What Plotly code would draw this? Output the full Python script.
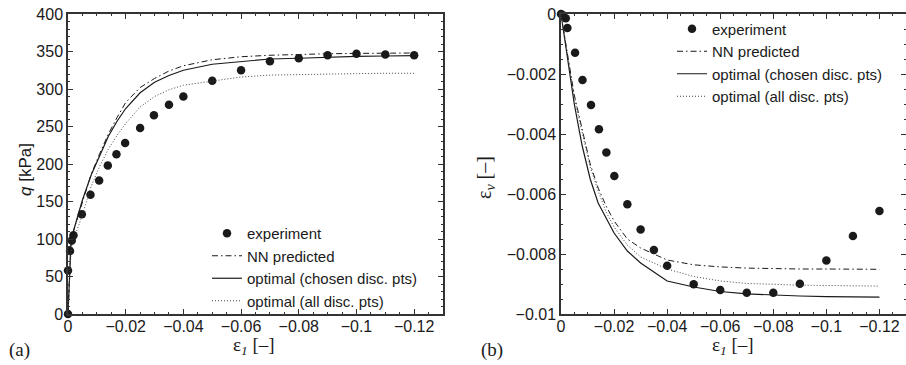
import plotly.graph_objects as go

# ---------------- data: panel (a) ----------------
exp_a_x = [0, 0, -0.0007, -0.0013, -0.0019, -0.0048, -0.0078, -0.0108, -0.0138, -0.0168, -0.0198,
           -0.025, -0.0298, -0.035, -0.04, -0.05, -0.06, -0.07, -0.08, -0.09, -0.10, -0.11, -0.12]
exp_a_q = [0, 58, 84, 98, 105, 133, 159, 178, 198, 213, 228,
           248, 265, 279, 290, 311, 325, 337, 341, 345, 347, 346, 345]

curve_x = [0, -0.0005, -0.001, -0.002, -0.005, -0.008, -0.011, -0.014, -0.017, -0.02,
           -0.025, -0.03, -0.035, -0.04, -0.05, -0.06, -0.07, -0.08, -0.09, -0.10, -0.11, -0.12]
nn_a_q = [0, 55, 92, 112, 150, 186, 214, 240, 262, 282,
          302, 314, 324, 331, 339, 343, 345, 346.5, 347, 347.5, 348, 348]
opt_chosen_a_q = [0, 55, 92, 112, 152, 185, 212, 237, 257, 274,
                  295, 309, 318, 325, 333, 337, 340, 341, 342.5, 343.5, 344, 344.5]
opt_all_a_q = [0, 45, 80, 100, 132, 170, 197, 220, 238, 254,
               276, 290, 299, 305, 311, 316, 318.5, 319.5, 320, 320.5, 321, 321]

# ---------------- data: panel (b) ----------------
exp_b_x = [0, -0.0006, -0.0018, -0.0024, -0.0053, -0.0081, -0.0113, -0.0143, -0.0171, -0.0201,
           -0.025, -0.03, -0.035, -0.04, -0.05, -0.06, -0.07, -0.08, -0.09, -0.10, -0.11, -0.12]
exp_b_v = [0, -0.00003, -0.00014, -0.00047, -0.00129, -0.0022, -0.00303, -0.00384, -0.00462, -0.0054,
           -0.00634, -0.00718, -0.00787, -0.00839, -0.00901, -0.0092, -0.00929, -0.00929, -0.00899,
           -0.00822, -0.0074, -0.00657]
nn_b_v = [0, -0.0003, -0.0006, -0.0011, -0.0027, -0.0039, -0.0050, -0.0058, -0.0064, -0.0069,
          -0.0075, -0.0078, -0.0080, -0.0082, -0.00836, -0.00843, -0.00847, -0.00849, -0.0085,
          -0.0085, -0.00851, -0.00851]
opt_chosen_b_v = [0, -0.0003, -0.0006, -0.0012, -0.0030, -0.0044, -0.0055, -0.0063, -0.0068, -0.0073,
                  -0.0079, -0.0083, -0.0086, -0.0089, -0.0091, -0.00925, -0.00933, -0.00937, -0.0094,
                  -0.00942, -0.00943, -0.00944]
opt_all_b_v = [0, -0.0003, -0.0006, -0.0011, -0.0028, -0.0040, -0.0051, -0.0059, -0.0066, -0.0071,
               -0.0077, -0.0081, -0.0083, -0.0085, -0.00875, -0.0089, -0.00898, -0.00902, -0.00904,
               -0.00905, -0.00906, -0.00907]

# ---------------- ticks ----------------
x_tickvals = [0, -0.02, -0.04, -0.06, -0.08, -0.10, -0.12]
x_ticktext = ["0", "\u22120.02", "\u22120.04", "\u22120.06", "\u22120.08", "\u22120.1", "\u22120.12"]
ya_tickvals = [0, 50, 100, 150, 200, 250, 300, 350, 400]
ya_ticktext = ["0", "50", "100", "150", "200", "250", "300", "350", "400"]
yb_tickvals = [0, -0.002, -0.004, -0.006, -0.008, -0.01]
yb_ticktext = ["0", "\u22120.002", "\u22120.004", "\u22120.006", "\u22120.008", "\u22120.01"]

names = ["experiment", "NN predicted", "optimal (chosen disc. pts)", "optimal (all disc. pts)"]

INK = "#1a1a1a"
SANS = "Liberation Sans, Arial, sans-serif"
SERIF = "Liberation Serif, Times New Roman, serif"

W, H = 906, 365


def px(xw):
    return xw / W


def py(yw):
    return 1 - yw / H


fig = go.Figure()


def add_panel(xa, ya, legend, ex, ey, cnn, copt, call):
    fig.add_trace(go.Scatter(x=ex, y=ey, mode="markers", name=names[0], xaxis=xa, yaxis=ya,
                             legend=legend, cliponaxis=False,
                             marker=dict(size=8.5, color=INK, symbol="circle")))
    fig.add_trace(go.Scatter(x=curve_x, y=cnn, mode="lines", name=names[1], xaxis=xa, yaxis=ya,
                             legend=legend, line=dict(color=INK, width=1, dash="6px,3px,1.5px,3px")))
    fig.add_trace(go.Scatter(x=curve_x, y=copt, mode="lines", name=names[2], xaxis=xa, yaxis=ya,
                             legend=legend, line=dict(color=INK, width=1.2)))
    fig.add_trace(go.Scatter(x=curve_x, y=call, mode="lines", name=names[3], xaxis=xa, yaxis=ya,
                             legend=legend, line=dict(color="#444", width=1, dash="1px,2px")))


add_panel("x", "y", "legend", exp_a_x, exp_a_q, nn_a_q, opt_chosen_a_q, opt_all_a_q)
add_panel("x2", "y2", "legend2", exp_b_x, exp_b_v, nn_b_v, opt_chosen_b_v, opt_all_b_v)

axis_common = dict(showline=True, linecolor="#333", linewidth=1.5, mirror="allticks",
                   ticks="inside", ticklen=5, tickwidth=1, tickcolor="#333",
                   showgrid=False, zeroline=False, automargin=False,
                   tickfont=dict(family=SANS, size=16, color=INK))
minor_common = dict(ticks="inside", ticklen=2.5, tickcolor="#333", showgrid=False)
legend_common = dict(xanchor="left", yanchor="top", bgcolor="rgba(0,0,0,0)", borderwidth=0,
                     itemwidth=30, tracegroupgap=0, font=dict(family=SANS, size=15, color=INK))


def label(text, xw, yw, family, size, angle=0):
    return dict(text=text, x=px(xw), y=py(yw), xref="paper", yref="paper",
                xanchor="center", yanchor="middle", textangle=angle, showarrow=False,
                font=dict(family=family, size=size, color=INK))


fig.update_layout(
    template="none",
    width=W, height=H,
    margin=dict(l=0, r=0, t=0, b=0, pad=0, autoexpand=False),
    paper_bgcolor="white", plot_bgcolor="white",
    showlegend=True,
    xaxis=dict(domain=[px(68), px(443)], range=[0, -0.13], anchor="y",
               tickvals=x_tickvals, ticktext=x_ticktext, ticklabelstandoff=-3,
               minor=dict(dtick=0.005, **minor_common), **axis_common),
    yaxis=dict(domain=[py(314), py(14)], range=[0, 400], anchor="x",
               tickvals=ya_tickvals, ticktext=ya_ticktext,
               minor=dict(dtick=10, **minor_common), **axis_common),
    xaxis2=dict(domain=[px(561), 1.0], range=[0, -0.13], anchor="y2",
                tickvals=x_tickvals, ticktext=x_ticktext, ticklabelstandoff=-3,
                minor=dict(dtick=0.005, **minor_common), **axis_common),
    yaxis2=dict(domain=[py(314), py(14)], range=[-0.01, 0], anchor="x2",
                tickvals=yb_tickvals, ticktext=yb_ticktext,
                minor=dict(dtick=0.0005, **minor_common), **axis_common),
    legend=dict(x=px(207), y=py(217), **legend_common),
    legend2=dict(x=px(672), y=py(12.5), **legend_common),
    annotations=[
        label("<i>q</i> [kPa]", 25, 170, SANS, 17, -90),
        label("\u03b5<sub><i>v</i></sub> [\u2013]", 485, 177, SERIF, 20, -90),
        label("\u03b5<sub><i>1</i></sub> [\u2013]", 254, 346, SERIF, 19),
        label("\u03b5<sub><i>1</i></sub> [\u2013]", 733, 346, SERIF, 19),
        label("(a)", 19, 350, SERIF, 19),
        label("(b)", 492, 350, SERIF, 19),
    ],
)

# remove the browser's default 8px body margin so the figure fills the window exactly
fig.write_html("out.html", config={"displayModeBar": False},
               post_script="document.body.style.margin='0';")
